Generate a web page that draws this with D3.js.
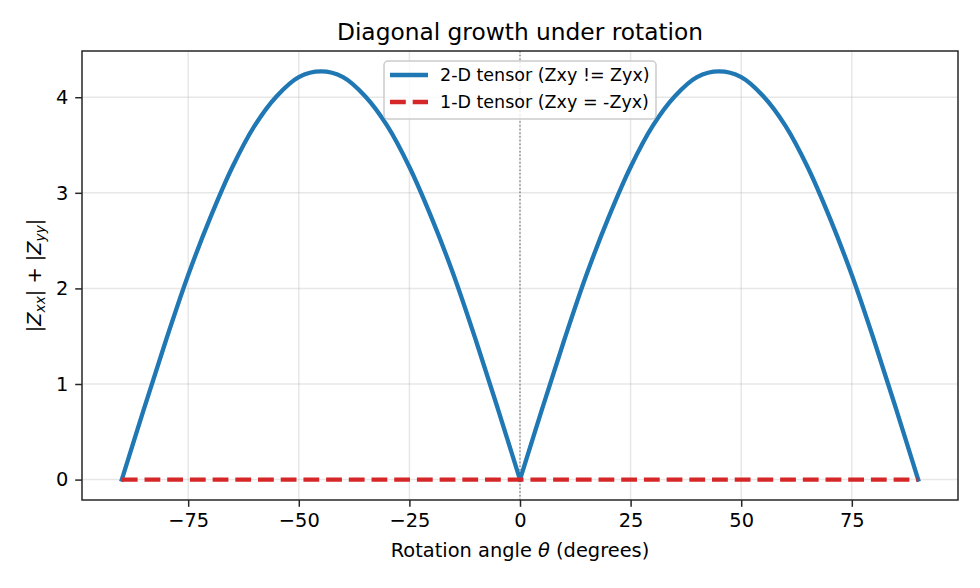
<!DOCTYPE html>
<html lang="en">
  <head>
    <meta charset="utf-8">
    <title>Diagonal growth under rotation</title>
    <style>
      body { margin: 0; background: white; }
      text { font-family: 'DejaVu Sans', sans-serif; }
    </style>
  </head>
  <body>
    <div id="chart-area"></div>
    <script src="https://cdn.jsdelivr.net/npm/d3@7"></script>
    <script>
      // angles (degrees)
      const angles = [-90, -85, -80, -75, -70, -65, -60, -55, -50, -45, -40, -35, -30, -25, -20, -15, -10, -5,
                      0, 5, 10, 15, 20, 25, 30, 35, 40, 45, 50, 55, 60, 65, 70, 75, 80, 85, 90];
      // |Zxx| + |Zyy| for the 2-D tensor
      const diag2d = [0, 0.74, 1.46, 2.14, 2.74, 3.27, 3.70, 4.01, 4.21, 4.27, 4.21, 4.01, 3.70, 3.27, 2.74, 2.14, 1.46, 0.74,
                      0, 0.74, 1.46, 2.14, 2.74, 3.27, 3.70, 4.01, 4.21, 4.27, 4.21, 4.01, 3.70, 3.27, 2.74, 2.14, 1.46, 0.74, 0];
      // 1-D tensor stays at zero
      const diag1d = [0, 0, 0, 0, 0, 0, 0, 0, 0, 0, 0, 0, 0, 0, 0, 0, 0, 0,
                      0, 0, 0, 0, 0, 0, 0, 0, 0, 0, 0, 0, 0, 0, 0, 0, 0, 0, 0];
      const x_ticks = [-75, -50, -25, 0, 25, 50, 75];
      const y_ticks = [0, 1, 2, 3, 4];
      const series_names = ['2-D tensor (Zxy != Zyx)', '1-D tensor (Zxy = -Zyx)'];

      const svg_width = 980;
      const svg_height = 588;
      const plot_left = 82, plot_right = 958, plot_top = 51, plot_bottom = 500;
      const lw = 4.3;

      const x_scale = d3.scaleLinear().domain([-99, 99]).range([plot_left, plot_right]);
      const y_scale = d3.scaleLinear().domain([-0.2135, 4.4835]).range([plot_bottom, plot_top]);

      const svg = d3.select('#chart-area')
        .append('svg')
        .attr('width', svg_width)
        .attr('height', svg_height);

      // grid
      svg.append('g')
        .selectAll('line')
        .data(x_ticks)
        .enter()
        .append('line')
        .attr('x1', d => x_scale(d)).attr('x2', d => x_scale(d))
        .attr('y1', plot_top).attr('y2', plot_bottom)
        .attr('stroke', '#b0b0b0').attr('stroke-opacity', 0.3).attr('stroke-width', 1.5);
      svg.append('g')
        .selectAll('line')
        .data(y_ticks)
        .enter()
        .append('line')
        .attr('x1', plot_left).attr('x2', plot_right)
        .attr('y1', d => y_scale(d)).attr('y2', d => y_scale(d))
        .attr('stroke', '#b0b0b0').attr('stroke-opacity', 0.3).attr('stroke-width', 1.5);

      // dotted line at zero
      svg.append('line')
        .attr('x1', x_scale(0)).attr('x2', x_scale(0))
        .attr('y1', plot_top).attr('y2', plot_bottom)
        .attr('stroke', '#808080').attr('stroke-width', 1.3)
        .attr('stroke-dasharray', '1.5,2.2');

      const points2d = angles.map((a, i) => [a, diag2d[i]]);
      const points1d = angles.map((a, i) => [a, diag1d[i]]);
      const line = d3.line()
        .x(d => x_scale(d[0]))
        .y(d => y_scale(d[1]))
        .curve(d3.curveCatmullRom);

      // two arches so the cusp at 0 stays sharp
      const arches = [points2d.filter(d => d[0] <= 0), points2d.filter(d => d[0] >= 0)];
      svg.selectAll('path.arch')
        .data(arches)
        .enter()
        .append('path')
        .attr('class', 'arch')
        .attr('d', d => line(d))
        .attr('fill', 'none')
        .attr('stroke', '#1f77b4')
        .attr('stroke-width', lw)
        .attr('stroke-linecap', 'square')
        .attr('stroke-linejoin', 'round');

      svg.append('path')
        .attr('d', line.curve(d3.curveLinear)(points1d))
        .attr('fill', 'none')
        .attr('stroke', '#d62728')
        .attr('stroke-width', lw)
        .attr('stroke-dasharray', '15.8,6.9');

      // axes
      const x_axis = d3.axisBottom(x_scale).tickValues(x_ticks).tickSize(6.8).tickPadding(6.8)
        .tickFormat(d => d < 0 ? '\u2212' + Math.abs(d) : d);
      const y_axis = d3.axisLeft(y_scale).tickValues(y_ticks).tickSize(6.8).tickPadding(6.8)
        .tickFormat(d3.format('d'));
      const gx = svg.append('g').attr('transform', `translate(0,${plot_bottom})`).call(x_axis);
      const gy = svg.append('g').attr('transform', `translate(${plot_left},0)`).call(y_axis);
      [gx, gy].forEach(g => {
        g.select('.domain').remove();
        g.selectAll('line').attr('stroke', '#262626').attr('stroke-width', 1.5);
        g.selectAll('text').attr('font-family', 'DejaVu Sans').attr('font-size', '19.4px').attr('fill', '#000');
      });

      // frame
      svg.append('rect')
        .attr('x', plot_left).attr('y', plot_top)
        .attr('width', plot_right - plot_left).attr('height', plot_bottom - plot_top)
        .attr('fill', 'none').attr('stroke', '#262626').attr('stroke-width', 1.5);

      // title and labels
      svg.append('text')
        .attr('x', (plot_left + plot_right) / 2).attr('y', 40)
        .attr('text-anchor', 'middle')
        .attr('font-size', '23.3px')
        .text('Diagonal growth under rotation');

      const xl = svg.append('text')
        .attr('x', (plot_left + plot_right) / 2).attr('y', 557)
        .attr('text-anchor', 'middle')
        .attr('font-size', '19.4px');
      xl.append('tspan').text('Rotation angle ');
      xl.append('tspan').attr('font-style', 'italic').text('\u03b8');
      xl.append('tspan').text(' (degrees)');

      const yl = svg.append('text')
        .attr('transform', `translate(41,${(plot_top + plot_bottom) / 2}) rotate(-90)`)
        .attr('text-anchor', 'middle')
        .attr('font-size', '19.4px');
      yl.append('tspan').text('|');
      yl.append('tspan').attr('font-style', 'italic').text('Z');
      yl.append('tspan').attr('font-style', 'italic').attr('font-size', '13.6px').attr('dy', 3.5).text('xx');
      yl.append('tspan').attr('dy', -3.5).text('| + |');
      yl.append('tspan').attr('font-style', 'italic').text('Z');
      yl.append('tspan').attr('font-style', 'italic').attr('font-size', '13.6px').attr('dy', 3.5).text('yy');
      yl.append('tspan').attr('dy', -3.5).text('|');

      // legend
      const legend = svg.append('g');
      legend.append('rect')
        .attr('x', 384).attr('y', 61).attr('width', 272).attr('height', 58)
        .attr('rx', 4).attr('fill', 'white').attr('fill-opacity', 0.8)
        .attr('stroke', '#cccccc').attr('stroke-width', 1.5);
      const rows = legend.selectAll('g.row')
        .data(series_names)
        .enter()
        .append('g')
        .attr('class', 'row')
        .attr('transform', (d, i) => `translate(0,${75 + i * 27})`);
      rows.append('line')
        .attr('x1', 390).attr('x2', 428).attr('y1', 0).attr('y2', 0)
        .attr('stroke', (d, i) => i === 0 ? '#1f77b4' : '#d62728')
        .attr('stroke-width', lw)
        .attr('stroke-dasharray', (d, i) => i === 0 ? null : '15.8,6.9');
      rows.append('text')
        .attr('x', 440).attr('y', 6.3)
        .attr('font-size', '17.5px')
        .text(d => d);
    </script>
  </body>
</html>
